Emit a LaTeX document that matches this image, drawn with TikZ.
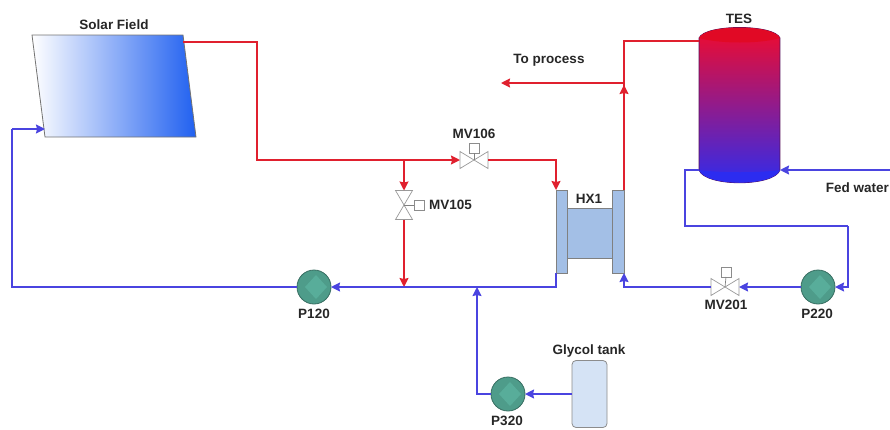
\documentclass[tikz,border=0pt]{standalone}
\usepackage{fontspec}
\setmainfont{Liberation Sans}
\usetikzlibrary{arrows.meta}
\definecolor{hotred}{HTML}{E0202E}
\definecolor{coldblue}{HTML}{4A44E0}
\definecolor{hxblue}{HTML}{A3BFE6}
\definecolor{pumpgreen}{HTML}{4E9C8A}
\definecolor{pumplight}{HTML}{58AD9A}
\definecolor{fieldblue}{HTML}{2060F0}
\definecolor{tankhot}{HTML}{F50A28}
\definecolor{tankmid}{HTML}{8C1A96}
\definecolor{tankcold}{HTML}{2C2CF0}
\definecolor{glycolblue}{HTML}{D5E3F5}
\tikzstyle{hotarrow} = [hotred,line width=1.6pt,-{Stealth[length=9pt,width=9pt,inset=1pt]}]
\tikzstyle{coldarrow} = [coldblue,line width=1.6pt,-{Stealth[length=9pt,width=9pt,inset=1pt]}]
\tikzstyle{hotpipe} = [hotred,line width=1.6pt]
\tikzstyle{coldpipe} = [coldblue,line width=1.6pt]
\tikzstyle{tag} = [font=\fontsize{13.5}{15}\selectfont\bfseries,text=black!85,inner sep=0pt]
\tikzstyle{pump} = [circle,draw=pumpgreen!70!black,line width=0.8pt,fill=pumpgreen,minimum size=34pt,inner sep=0pt,outer sep=0pt]
\tikzstyle{valve} = [draw=none,inner sep=0pt,outer sep=0pt]
\tikzstyle{valveline} = [draw=black!40,line width=0.7pt,fill=white]
\tikzstyle{actuator} = [draw=black!45,line width=0.7pt,fill=white,minimum size=10pt,inner sep=0pt,outer sep=0pt]
\tikzstyle{flange} = [draw=black!50,line width=0.8pt,fill=hxblue,inner sep=0pt,outer sep=0pt]

\begin{document}
\begin{tikzpicture}[x=1pt,y=-1pt]
	\useasboundingbox (0,0) rectangle (890,429);

	% solar field and storage
	\draw [draw=black!55,line width=0.8pt,left color=white,right color=fieldblue] (32,35) -- (183,35) -- (196,137) -- (45,137) -- cycle;
	\draw [draw=tankmid!60!black,line width=0.8pt,top color=tankhot,middle color=tankmid,bottom color=tankcold] (699,38) .. controls (705,24) and (774,24) .. (780,38) -- (780,170) .. controls (774,187) and (705,187) .. (699,170) -- cycle;
	\fill [tankhot!92!black] (699,38) .. controls (705,24) and (774,24) .. (780,38) .. controls (760,44) and (720,44) .. (699,38) -- cycle;
	\fill [tankcold] (699,170) .. controls (720,173) and (760,173) .. (780,170) .. controls (774,187) and (705,187) .. (699,170) -- cycle;

	\coordinate (sf-out) at (183,42);
	\coordinate (sf-in) at (45,129);
	\coordinate (sf-drop) at (257,160);
	\coordinate (sf-back) at (12,129);
	\coordinate (tes-top) at (699,41);
	\coordinate (tes-low) at (699,170);
	\coordinate (tes-feed) at (780,170);
	\coordinate (feed-end) at (890,170);
	\coordinate (riser-top) at (624,41);
	\coordinate (riser-tee) at (624,83);
	\coordinate (riser-tip) at (624,85);
	\coordinate (process-end) at (501,83);
	\coordinate (branch-top) at (404,160);
	\coordinate (main-tee) at (404,287);
	\coordinate (glycol-tee) at (477,287);
	\coordinate (tes-drop) at (685,226);
	\coordinate (p220-feed) at (848,226);

	% heat exchanger
	\node [flange,minimum width=46pt,minimum height=50pt] (hxcore) at (589.5,233) {};
	\node [flange,minimum width=11pt,minimum height=83pt] (hxleft) at (561.5,231.5) {};
	\node [flange,minimum width=12pt,minimum height=83pt] (hxright) at (618,231.5) {};

	% pumps, valves and tank
	\foreach \name/\x/\y in {p120/314/287,p220/818/287,p320/508/394} {
		\node [pump] (\name) at (\x,\y) {};
		\fill [pumplight] (\x-9,\y) -- (\x+2,\y-12) -- (\x+13,\y) -- (\x+2,\y+12) -- cycle;
	}
	\node [valve,minimum width=28pt,minimum height=17pt] (mv106) at (474,160) {};
	\node [valve,minimum width=28pt,minimum height=17pt] (mv201) at (725,287) {};
	\node [valve,minimum width=17pt,minimum height=29pt] (mv105) at (404,205) {};
	\foreach \v in {mv106,mv201} {
		\draw [valveline] (\v.north west) -- (\v.south east) -- (\v.north east) -- (\v.south west) -- cycle;
	}
	\draw [valveline] (mv105.north west) -- (mv105.north east) -- (mv105.south west) -- (mv105.south east) -- cycle;
	\node [actuator] (act106) at (474,148) {};
	\node [actuator] (act201) at (726,272) {};
	\node [actuator] (act105) at (419,205) {};
	\draw [draw=black!50,line width=0.7pt] (mv106.center) -- (act106.south);
	\draw [draw=black!50,line width=0.7pt] (mv201.center) -- (act201.south);
	\draw [draw=black!50,line width=0.7pt] (mv105.center) -- (act105.west);
	\node [draw=black!45,line width=0.8pt,fill=glycolblue,rounded corners=4pt,minimum width=35pt,minimum height=67pt,inner sep=0pt,outer sep=0pt] (glycol) at (589.5,394) {};

	% hot side
	\draw [hotpipe] (sf-out) -| (sf-drop) -- (branch-top);
	\draw [hotarrow] (branch-top) -- (mv106.west);
	\draw [hotarrow] (mv106.east) -| (hxleft.north west);
	\draw [hotarrow] (branch-top) -- (mv105.north);
	\draw [hotarrow] (mv105.south) -- (main-tee);
	\draw [hotpipe] (hxright.north east) -- (riser-top) -- (tes-top);
	\draw [hotarrow] (hxright.north east) -- (riser-tip);
	\draw [hotarrow] (riser-tee) -- (process-end);

	% cold side
	\draw [coldarrow] (hxleft.south west) |- (p120.east);
	\draw [coldpipe] (p120.west) -| (sf-back);
	\draw [coldarrow] (sf-back) -- (sf-in);
	\draw [coldarrow] (feed-end) -- (tes-feed);
	\draw [coldpipe] (tes-low) -| (tes-drop) -- (p220-feed);
	\draw [coldarrow] (p220-feed) |- (p220.east);
	\draw [coldarrow] (p220.west) -- (mv201.east);
	\draw [coldarrow] (mv201.west) -| (hxright.south east);
	\draw [coldarrow] (glycol.west) -- (p320.east);
	\draw [coldarrow] (p320.west) -| (glycol-tee);

	% labels
	\node [tag] (solar-tag) at (114,25) {Solar Field};
	\node [tag] (tes-tag) at (739,19) {TES};
	\node [tag] (process-tag) at (549,60) {To process};
	\node [tag] (hx-tag) at (589,199) {HX1};
	\node [tag] (mv106-tag) at (474,134) {MV106};
	\node [tag,anchor=west] (mv105-tag) at (429,205) {MV105};
	\node [tag] (mv201-tag) at (726,305) {MV201};
	\node [tag] (p120-tag) at (314,314) {P120};
	\node [tag] (p220-tag) at (817,314) {P220};
	\node [tag] (p320-tag) at (507,421) {P320};
	\node [tag] (glycol-tag) at (589,351) {Glycol tank};
	\node [tag,anchor=east] (feed-tag) at (889,188) {Fed water};
\end{tikzpicture}
\end{document}
